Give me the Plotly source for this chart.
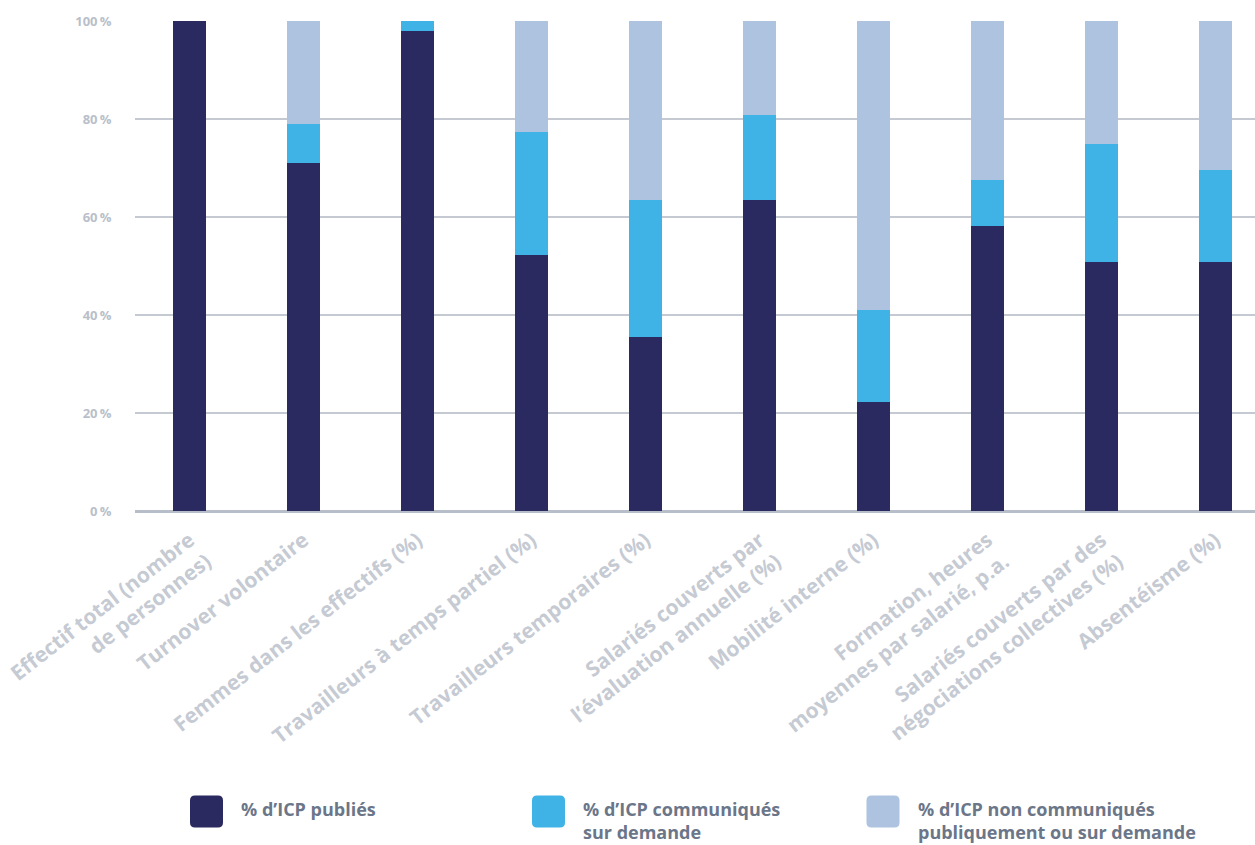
import plotly.graph_objects as go

categories = [
    "Effectif total (nombre<br>de personnes)",
    "Turnover volontaire",
    "Femmes dans les effectifs (%)",
    "Travailleurs à temps partiel (%)",
    "Travailleurs temporaires (%)",
    "Salariés couverts par<br>l’évaluation annuelle (%)",
    "Mobilité interne (%)",
    "Formation, heures<br>moyennes par salarié, p.a.",
    "Salariés couverts par des<br>négociations collectives (%)",
    "Absentéisme (%)",
]
publies = [100, 71, 98, 52.2, 35.5, 63.5, 22.2, 58.2, 50.8, 50.8]
sur_demande = [0, 8, 2, 25.1, 28, 17.3, 18.8, 9.4, 24.1, 18.8]
non_communiques = [0, 21, 0, 22.7, 36.5, 19.2, 59, 32.4, 25.1, 30.4]

series_names = ["% d’ICP publiés", "% d’ICP communiqués<br>sur demande",
                "% d’ICP non communiqués<br>publiquement ou sur demande"]
series_colors = ["#2a2960", "#3fb3e6", "#adc3df"]
y_ticks = [0, 20, 40, 60, 80, 100]
y_ticktext = ["0\u2009%", "20\u2009%", "40\u2009%", "60\u2009%", "80\u2009%", "100\u2009%"]

FONT = "Open Sans"
W, H = 1255, 845
ML, MR, MT, MB = 135, 0, 21, 334
PW, PH = W - ML - MR, H - MT - MB

fig = go.Figure()
x_idx = list(range(len(categories)))
for vals, name, col in zip([publies, sur_demande, non_communiques], series_names, series_colors):
    fig.add_trace(go.Bar(x=x_idx, y=vals, name=name.replace("<br>", " "),
                         marker=dict(color=col, line=dict(width=0)), showlegend=False))

fig.update_layout(
    width=W, height=H,
    barmode="stack", bargap=0.71,
    margin=dict(l=ML, r=MR, t=MT, b=MB, pad=0),
    plot_bgcolor="white", paper_bgcolor="white",
    font=dict(family=FONT),
    xaxis=dict(
        tickmode="array", tickvals=x_idx, ticktext=categories,
        tickangle=-38, range=[-0.478, 9.347], ticklabelstandoff=12,
        tickfont=dict(family=FONT, size=21, color="#c5cad3", weight="bold"),
        showgrid=False, showline=False, ticks="", zeroline=False,
    ),
    yaxis=dict(
        range=[0, 100], tickmode="array", tickvals=y_ticks, ticktext=y_ticktext,
        tickfont=dict(family=FONT, size=13, color="#b9bfca", weight="bold"),
        showgrid=True, gridcolor="#c4c9d2", gridwidth=1.5,
        zeroline=True, zerolinecolor="#b7bdc9", zerolinewidth=3,
        showline=False, ticks="outside", ticklen=20, tickcolor="rgba(0,0,0,0)",
    ),
)

# legend built from shapes + annotations
def px_to_paper_x(px):
    return (px - ML) / PW

def px_to_paper_y(py):
    return (H - MB - py) / PH

w2, h2, r = 16.5, 16, 5
path = (f"M {-w2+r},{-h2} L {w2-r},{-h2} Q {w2},{-h2} {w2},{-h2+r} L {w2},{h2-r} "
        f"Q {w2},{h2} {w2-r},{h2} L {-w2+r},{h2} Q {-w2},{h2} {-w2},{h2-r} "
        f"L {-w2},{-h2+r} Q {-w2},{-h2} {-w2+r},{-h2} Z")
legend_swatch_x = [206.5, 548.5, 883]
legend_text_x = [240, 582, 917]
for sx, tx, name, col in zip(legend_swatch_x, legend_text_x, series_names, series_colors):
    fig.add_shape(type="path", xref="paper", yref="paper", xsizemode="pixel", ysizemode="pixel",
                  xanchor=px_to_paper_x(sx), yanchor=px_to_paper_y(811.5), path=path,
                  fillcolor=col, line=dict(width=0))
    fig.add_annotation(xref="paper", yref="paper", x=px_to_paper_x(tx), y=px_to_paper_y(796),
                       xanchor="left", yanchor="top", align="left", showarrow=False, borderpad=0,
                       text=name, font=dict(family=FONT, size=18, color="#6b7689", weight="bold"))

fig.write_html("out.html")
